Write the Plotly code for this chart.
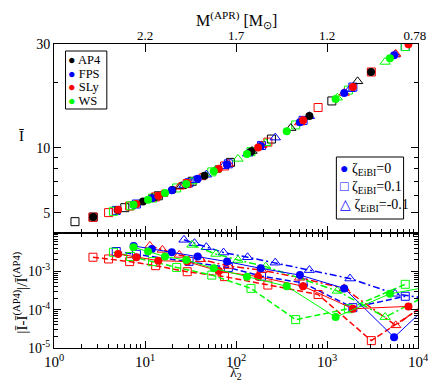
import plotly.graph_objects as go

# ---------------- DANE ----------------
# AP4 (tylko górny panel)
lam_ap4_0 = [2.7, 5.0, 9.5, 20, 45, 147, 640, 3050]
i_ap4_0 = [4.79, 5.16, 5.65, 6.38, 7.43, 9.60, 14.0, 22.3]
lam_ap4_p = [1.7, 2.7, 6.0, 14, 33, 87, 245, 1130]
i_ap4_p = [4.56, 4.79, 5.29, 6.00, 7.00, 8.55, 10.95, 16.4]
lam_ap4_m = [12, 25, 60, 150, 400, 2170]
i_ap4_m = [5.86, 6.64, 7.90, 9.65, 12.3, 20.2]

# FPS
lam_fps_0 = [7.5, 11.9, 19.7, 37.9, 79.8, 187, 504, 1546, 5460, 12000]
i_fps_0 = [5.45, 5.84, 6.36, 7.18, 8.36, 10.16, 13.07, 17.85, 26.6, 34.2]
rel_fps_0 = [4.63e-3, 3.87e-3, 3.16e-3, 2.44e-3, 1.80e-3, 1.20e-3, 8.0e-4, 3.6e-4, 1.9e-5, 1.1e-4]
lam_fps_p = [4.83, 8.04, 30.5, 82.4, 191, 546, 1924, 7244]
i_fps_p = [5.14, 5.50, 6.89, 8.42, 10.22, 13.35, 19.0, 29.2]
rel_fps_p = [3.30e-3, 2.80e-3, 1.83e-3, 1.27e-3, 7.5e-4, 5.0e-4, 1.13e-4, 2.24e-4]
lam_fps_m = [26.8, 35.0, 47.2, 73.0, 134, 270, 641, 1790, 5600, 12000]
i_fps_m = [6.72, 7.07, 7.50, 8.20, 9.38, 11.12, 13.95, 18.6, 26.8, 34.2]
rel_fps_m = [6.67e-3, 5.45e-3, 4.28e-3, 3.10e-3, 2.34e-3, 1.69e-3, 1.08e-3, 6.5e-4, 2.6e-4, 2.0e-4]

# SLy
lam_sly_0 = [5.07, 8.04, 14.0, 29.1, 64.7, 175, 546, 1924, 7853]
i_sly_0 = [5.17, 5.50, 6.00, 6.83, 8.00, 10.0, 13.35, 19.0, 29.9]
rel_sly_0 = [2.85e-3, 2.34e-3, 1.91e-3, 1.80e-3, 1.02e-3, 7.3e-4, 4.1e-4, 1.06e-4, 1.22e-4]
lam_sly_p = [2.68, 3.98, 6.78, 13.1, 29.1, 74.8, 224, 798, 3070, 14000]
i_sly_p = [4.78, 5.02, 5.38, 5.93, 6.83, 8.23, 10.6, 15.3, 22.3, 36.0]
rel_sly_p = [2.34e-3, 2.11e-3, 1.80e-3, 1.41e-3, 9.8e-4, 7.3e-4, 4.4e-4, 2.5e-4, 1.56e-5, 1.7e-4]
lam_sly_m = [11.3, 15.5, 23.8, 40.8, 82.4, 192, 500, 1546, 5690, 12000]
i_sly_m = [5.79, 6.10, 6.60, 7.29, 8.42, 10.24, 13.04, 17.85, 27.0, 34.2]
rel_sly_m = [4.63e-3, 3.64e-3, 2.69e-3, 2.07e-3, 1.38e-3, 1.08e-3, 6.8e-4, 3.6e-4, 3.9e-5, 1.4e-4]

# WS
lam_ws_0 = [7.48, 10.8, 16.6, 28.4, 56.9, 132, 361, 1244, 4918, 12000]
i_ws_0 = [5.45, 5.76, 6.18, 6.79, 7.78, 9.35, 11.9, 16.75, 25.8, 34.2]
rel_ws_0 = [4.28e-3, 3.30e-3, 2.44e-3, 1.98e-3, 1.20e-3, 7.3e-4, 4.1e-4, 6.4e-5, 2.6e-4, 3.8e-4]
lam_ws_p = [4.5, 6.95, 12.1, 22.3, 54.2, 146, 453, 1718, 7244]
i_ws_p = [5.09, 5.40, 5.86, 6.52, 7.73, 9.58, 12.72, 18.4, 29.2]
rel_ws_p = [3.16e-3, 2.44e-3, 1.80e-3, 1.27e-3, 8.0e-4, 3.6e-4, 5.5e-5, 1.06e-4, 4.6e-4]
lam_ws_m = [32.8, 60.1, 105, 212, 1297, 4352, 11000]
i_ws_m = [6.98, 7.90, 8.87, 10.48, 16.98, 24.8, 33.0]
rel_ws_m = [4.92e-3, 2.85e-3, 1.98e-3, 1.33e-3, 3.1e-4, 6.4e-5, 2.0e-4]

# osie
mass_ticks = ["2.2", "1.7", "1.2", "0.78\u00a0\u00a0"]
eos_names = ["AP4", "FPS", "SLy", "WS"]
zeta_labels = ["ζ<sub>EiBI</sub>=0", "ζ<sub>EiBI</sub>=0.1", "ζ<sub>EiBI</sub>=-0.1"]

BLACK, BLUE, RED, GREEN = "#000000", "#0000ff", "#ff0000", "#00ff00"
eos_colors = [BLACK, BLUE, RED, GREEN]
zeta_glyphs = ["●", "□", "△"]

FONT = "Liberation Serif"

# ---------------- STYL ----------------
def marker(sym, col):
    if sym == "circle":
        return dict(symbol="circle", size=8, color=col, line=dict(width=0))
    if sym == "square-open":
        return dict(symbol="square-open", size=8, color=col, line=dict(width=1, color=col))
    return dict(symbol="triangle-up-open", size=9, color=col, line=dict(width=1, color=col))


LINE = {
    "circle": dict(width=1, dash="solid"),
    "square-open": dict(width=1.5, dash="6px,3px"),
    "triangle-up-open": dict(width=1.5, dash="7px,3px,2px,3px"),
}

top = [
    (lam_ap4_p, i_ap4_p, BLACK, "square-open"),
    (lam_fps_p, i_fps_p, BLUE, "square-open"),
    (lam_sly_p, i_sly_p, RED, "square-open"),
    (lam_ws_p, i_ws_p, GREEN, "square-open"),
    (lam_ap4_m, i_ap4_m, BLACK, "triangle-up-open"),
    (lam_fps_m, i_fps_m, BLUE, "triangle-up-open"),
    (lam_sly_m, i_sly_m, RED, "triangle-up-open"),
    (lam_ws_m, i_ws_m, GREEN, "triangle-up-open"),
    (lam_ap4_0, i_ap4_0, BLACK, "circle"),
    (lam_fps_0, i_fps_0, BLUE, "circle"),
    (lam_sly_0, i_sly_0, RED, "circle"),
    (lam_ws_0, i_ws_0, GREEN, "circle"),
]

bottom = [
    (lam_fps_p, rel_fps_p, BLUE, "square-open"),
    (lam_sly_p, rel_sly_p, RED, "square-open"),
    (lam_ws_p, rel_ws_p, GREEN, "square-open"),
    (lam_fps_m, rel_fps_m, BLUE, "triangle-up-open"),
    (lam_sly_m, rel_sly_m, RED, "triangle-up-open"),
    (lam_ws_m, rel_ws_m, GREEN, "triangle-up-open"),
    (lam_fps_0, rel_fps_0, BLUE, "circle"),
    (lam_sly_0, rel_sly_0, RED, "circle"),
    (lam_ws_0, rel_ws_0, GREEN, "circle"),
]

fig = go.Figure()

for lam, ival, col, sym in top:
    fig.add_trace(go.Scatter(x=lam, y=ival, mode="markers", marker=marker(sym, col),
                             xaxis="x", yaxis="y", showlegend=False))

for lam, rel, col, sym in bottom:
    fig.add_trace(go.Scatter(x=lam, y=rel, mode="lines+markers", marker=marker(sym, col),
                             line=dict(color=col, **LINE[sym]),
                             xaxis="x2", yaxis="y2", showlegend=False))

# pusta seria, zeby gorna os masy zostala narysowana
fig.add_trace(go.Scatter(x=[None], y=[None], xaxis="x3", yaxis="y",
                         showlegend=False, hoverinfo="skip"))

# ---------------- OSIE ----------------
decades = [1, 10, 100, 1000, 10000]
x_minor = [m * d for d in decades[:-1] for m in range(2, 10)]
y2_minor = [m * d for d in [1e-5, 1e-4, 1e-3] for m in range(2, 10)]

common = dict(type="log", showline=True, linecolor="black", linewidth=1, showgrid=False,
              zeroline=False, ticks="inside", ticklen=7, tickcolor="black",
              tickfont=dict(family=FONT, size=14, color="black"))

fig.update_layout(
    width=436, height=380,
    margin=dict(l=46, r=11, t=36, b=40),
    plot_bgcolor="white", paper_bgcolor="white",
    font=dict(family=FONT, size=14, color="black"),
    xaxis=dict(common, domain=[0, 1], anchor="y", range=[0, 4], mirror=True,
               tickvals=decades, showticklabels=False,
               minor=dict(ticks="inside", ticklen=4, tickvals=x_minor, tickcolor="black")),
    yaxis=dict(common, domain=[0.378, 1], anchor="x", range=[0.6064, 1.4771], mirror="ticks",
               tickvals=[5, 10, 30], ticktext=["5", "10", "30"],
               minor=dict(ticks="inside", ticklen=4, tickvals=[6, 7, 8, 9, 20], tickcolor="black")),
    xaxis2=dict(common, domain=[0, 1], anchor="y2", range=[0, 4], mirror="ticks",
                tickvals=decades,
                ticktext=["10<sup>%d</sup>" % k for k in range(5)],
                tickfont=dict(family=FONT, size=15, color="black"),
                minor=dict(ticks="inside", ticklen=4, tickvals=x_minor, tickcolor="black")),
    yaxis2=dict(common, domain=[0, 0.378], anchor="x2", range=[-5, -2], mirror="ticks",
                tickvals=[1e-5, 1e-4, 1e-3, 1e-2],
                ticktext=["10<sup>-5</sup>", "10<sup>-4</sup>", "10<sup>-3</sup>", ""],
                minor=dict(ticks="inside", ticklen=4, tickvals=y2_minor, tickcolor="black")),
    xaxis3=dict(type="log", overlaying="x", side="top", anchor="y", range=[0, 4],
                showline=False, showgrid=False, zeroline=False,
                ticks="inside", ticklen=8, tickcolor="black",
                tickvals=decades[1:], ticktext=mass_ticks,
                tickfont=dict(family=FONT, size=13, color="black")),
)

# ---------------- OPISY ----------------
def px_x(p):
    return (p - 46) / 379.0


def px_y(p):
    return (340 - p) / 304.0


ann = []
ann.append(dict(text="M<sup>(APR)</sup> [M<sub>⊙</sub>]", x=0.501, y=px_y(12),
                font=dict(size=16)))
ann.append(dict(text="Ī", x=px_x(12), y=px_y(128), font=dict(size=15)))
ann.append(dict(text="|Ī-Ī<sup>(AP4)</sup>|/Ī<sup>(AP4)</sup>", x=px_x(11), y=px_y(284),
                textangle=-90, font=dict(size=15)))
ann.append(dict(text="λ̄<sub>2</sub>", x=0.501, y=px_y(365), font=dict(size=14)))

# legenda EOS
for k, (nm, col) in enumerate(zip(eos_names, eos_colors)):
    ann.append(dict(text='<span style="color:%s">●</span> %s' % (col, nm),
                    x=px_x(59), y=px_y(52 + 13.7 * k), xanchor="left",
                    font=dict(size=12.5)))
# legenda zeta
for k, (lab, g) in enumerate(zip(zeta_labels, zeta_glyphs)):
    ann.append(dict(text='<span style="color:%s">%s</span> %s' % (BLUE, g, lab),
                    x=px_x(342), y=px_y(161 + 18 * k), xanchor="left",
                    font=dict(size=14)))

for a in ann:
    a.setdefault("xanchor", "center")
    a.setdefault("yanchor", "middle")
    a.update(xref="paper", yref="paper", showarrow=False)
fig.update_layout(annotations=ann)

fig.update_layout(shapes=[
    dict(type="rect", xref="paper", yref="paper", x0=px_x(58), x1=px_x(101),
         y0=px_y(101), y1=px_y(43), line=dict(color="black", width=1), fillcolor="white",
         layer="below"),
    dict(type="rect", xref="paper", yref="paper", x0=px_x(340), x1=px_x(410),
         y0=px_y(211), y1=px_y(149), line=dict(color="black", width=1), fillcolor="white",
         layer="below"),
])

fig.write_html("out.html")
